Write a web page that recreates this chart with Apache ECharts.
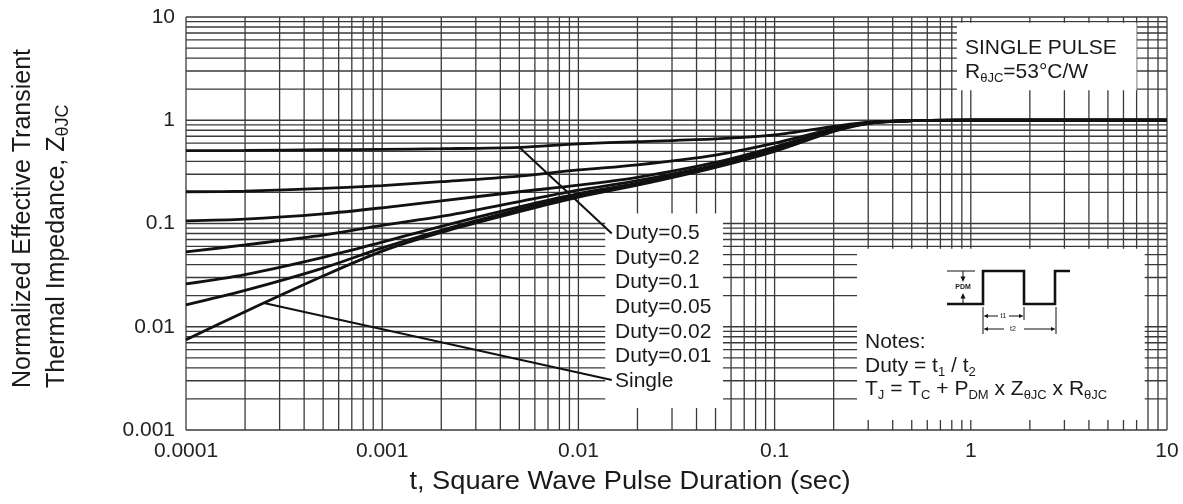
<!DOCTYPE html>
<html>
<head>
<meta charset="utf-8">
<script src="https://cdn.jsdelivr.net/npm/echarts@6.0.0/dist/echarts.min.js"></script>
<style>
  html, body { margin: 0; padding: 0; background: #fff; }
  #chart { width: 1183px; height: 504px; }
</style>
</head>
<body>
<div id="chart"></div>
<script>
const tSec = [1e-4, 2e-4, 5e-4, 1e-3, 2e-3, 5e-3, 1e-2, 2e-2, 5e-2, 0.1, 0.2, 0.3, 0.5, 1, 10];

// normalized Zthjc per duty cycle
const duty05  = [0.507, 0.51, 0.518, 0.523, 0.53, 0.547, 0.59, 0.62, 0.66, 0.72, 0.87, 0.96, 0.99, 1.0, 1.0];
const duty02  = [0.203, 0.206, 0.219, 0.233, 0.254, 0.288, 0.33, 0.37, 0.46, 0.60, 0.83, 0.95, 0.99, 1.0, 1.0];
const duty01  = [0.106, 0.110, 0.124, 0.142, 0.166, 0.203, 0.235, 0.28, 0.39, 0.55, 0.81, 0.945, 0.99, 1.0, 1.0];
const duty005 = [0.053, 0.062, 0.077, 0.096, 0.117, 0.163, 0.21, 0.26, 0.37, 0.53, 0.80, 0.94, 0.99, 1.0, 1.0];
const duty002 = [0.026, 0.032, 0.047, 0.066, 0.094, 0.145, 0.195, 0.246, 0.36, 0.52, 0.795, 0.94, 0.99, 1.0, 1.0];
const duty001 = [0.0163, 0.0225, 0.037, 0.058, 0.086, 0.137, 0.188, 0.24, 0.355, 0.51, 0.79, 0.935, 0.99, 1.0, 1.0];
const single  = [0.0075, 0.014, 0.031, 0.054, 0.082, 0.13, 0.18, 0.235, 0.35, 0.50, 0.78, 0.93, 0.99, 1.0, 1.0];

const curveLabels = ['Duty=0.5', 'Duty=0.2', 'Duty=0.1', 'Duty=0.05', 'Duty=0.02', 'Duty=0.01', 'Single'];
const xTickLabels = ['0.0001', '0.001', '0.01', '0.1', '1', '10'];
const yTickLabels = ['0.001', '0.01', '0.1', '1', '10'];

// leader lines from curve to label [t, Z]
const leader05 = [[0.005, 0.547], [0.0148, 0.080]];
const leaderSingle = [[0.000246, 0.0171], [0.0148, 0.00305]];

// white label boxes [tLeft, zBottom, tRight, zTop]
const boxes = [
  [0.0137, 0.00163, 0.0546, 0.125],
  [0.263, 0.00125, 7.7, 0.057],
  [0.85, 1.95, 7.0, 8.8]
];

const X_MIN = 1e-4, X_MAX = 10, Y_MIN = 1e-3, Y_MAX = 10;
const FONT = '"Liberation Sans", Arial, sans-serif';
const INK = '#1a1a1a';
const GRID = '#3a3a3a';

// 1..9 in every decade, plus the top end
function logGrid(min, max) {
  const out = [];
  for (let e = Math.round(Math.log10(min)); e < Math.round(Math.log10(max)); e++) {
    for (let k = 1; k < 10; k++) out.push(+(k * Math.pow(10, e)).toPrecision(3));
  }
  out.push(max);
  return out;
}

const chart = echarts.init(document.getElementById('chart'));

const curves = [duty05, duty02, duty01, duty005, duty002, duty001, single];

const richBase = {
  m: { fontSize: 21, fontFamily: FONT, color: INK, lineHeight: 26 },
  s: { fontSize: 13, fontFamily: FONT, color: INK, lineHeight: 15, verticalAlign: 'bottom' }
};

function txt(x, y, text, size, extra) {
  const el = {
    type: 'text', x: x, y: y, z: 10, silent: true,
    style: { text: text, fill: INK, fontSize: size, fontFamily: FONT, align: 'left', verticalAlign: 'middle' }
  };
  return Object.assign(el, extra || {});
}
function centerTxt(x, y, text, size, extra) {
  const el = txt(x, y, text, size, extra);
  el.style.align = 'center';
  return el;
}
function richTxt(x, y, text, extra) {
  const el = txt(x, y, text, 21, extra);
  el.style.rich = richBase;
  return el;
}
function seg(points, w) {
  return { type: 'polyline', z: 10, silent: true, shape: { points: points },
           style: { stroke: '#111', lineWidth: w, fill: null } };
}
function tri(points) {
  return { type: 'polygon', z: 10, silent: true, shape: { points: points }, style: { fill: '#111' } };
}

const yTitle2 = txt(57, 388, '{t|Thermal Impedance, Z}{u|θJC}', 25, { rotation: Math.PI / 2 });
yTitle2.style.rich = {
  t: { fontSize: 25, fontFamily: FONT, color: INK, lineHeight: 30 },
  u: { fontSize: 18, fontFamily: FONT, color: INK, lineHeight: 20, verticalAlign: 'bottom' }
};

const pdmLabel = centerTxt(963, 287.5, 'PDM', 7);
pdmLabel.style.fontWeight = 'bold';

const graphics = [
  // y axis title, two rotated lines
  txt(23, 388, 'Normalized Effective Transient', 25, { rotation: Math.PI / 2 }),
  yTitle2,
  // x axis title
  centerTxt(630, 482, 't, Square Wave Pulse Duration (sec)', 25, { scaleX: 1.09 }),

  // single pulse box
  txt(965, 48, 'SINGLE PULSE', 21),
  richTxt(965, 72, '{m|R}{s|θJC}{m|=53°C/W}'),

  // notes box
  txt(865, 342, 'Notes:', 21),
  richTxt(865, 366, '{m|Duty = t}{s|1}{m| / t}{s|2}'),
  richTxt(865, 389, '{m|T}{s|J}{m| = T}{s|C}{m| + P}{s|DM}{m| x Z}{s|θJC}{m| x R}{s|θJC}'),

  // pulse schematic
  seg([[947, 304], [983, 304], [983, 271], [1024, 271], [1024, 304], [1055, 304], [1055, 271], [1070, 271]], 2.6),
  seg([[947, 271], [975, 271]], 1),
  seg([[963, 271], [963, 278]], 1),
  tri([[963, 282], [960.5, 276.5], [965.5, 276.5]]),
  seg([[963, 297], [963, 304]], 1),
  tri([[963, 293], [960.5, 298.5], [965.5, 298.5]]),
  pdmLabel,
  seg([[983, 307], [983, 334]], 1),
  seg([[1024, 307], [1024, 320]], 1),
  seg([[1056, 307], [1056, 334]], 1),
  seg([[986, 316], [998, 316]], 1),
  tri([[983.5, 316], [988, 314], [988, 318]]),
  seg([[1009, 316], [1021, 316]], 1),
  tri([[1023.5, 316], [1019, 314], [1019, 318]]),
  centerTxt(1003.5, 316, 't1', 7),
  seg([[986, 329], [1004, 329]], 1),
  tri([[983.5, 329], [988, 327], [988, 331]]),
  seg([[1024, 329], [1053, 329]], 1),
  tri([[1055.5, 329], [1051, 327], [1051, 331]]),
  centerTxt(1013, 329, 't2', 7)
];

// duty labels stacked in the left box
curveLabels.forEach(function (name, i) {
  graphics.push(txt(615, 233.5 + i * 24.6, name, 21));
});

const series = [
  {
    type: 'custom', z: 1, silent: true, clip: false,
    data: logGrid(X_MIN, X_MAX).map(v => [v, 1]),
    renderItem: function (params, api) {
      const a = api.coord([api.value(0), Y_MIN]);
      const b = api.coord([api.value(0), Y_MAX]);
      return { type: 'line', shape: { x1: a[0], y1: a[1], x2: b[0], y2: b[1] },
               style: { stroke: GRID, lineWidth: 1.3 } };
    }
  },
  {
    type: 'custom', z: 1, silent: true, clip: false,
    data: logGrid(Y_MIN, Y_MAX).map(v => [1, v]),
    renderItem: function (params, api) {
      const a = api.coord([X_MIN, api.value(1)]);
      const b = api.coord([X_MAX, api.value(1)]);
      return { type: 'line', shape: { x1: a[0], y1: a[1], x2: b[0], y2: b[1] },
               style: { stroke: GRID, lineWidth: 1.3 } };
    }
  },
  {
    type: 'custom', z: 2, silent: true, clip: false,
    data: boxes,
    renderItem: function (params, api) {
      const a = api.coord([api.value(0), api.value(1)]);
      const b = api.coord([api.value(2), api.value(3)]);
      return { type: 'rect', shape: { x: a[0], y: b[1], width: b[0] - a[0], height: a[1] - b[1] },
               style: { fill: '#fff' } };
    }
  }
];

curves.forEach(function (vals, i) {
  series.push({
    type: 'line', name: curveLabels[i], z: 3, silent: true,
    data: tSec.map((t, j) => [t, vals[j]]),
    symbol: 'none', smooth: 0.3,
    lineStyle: { color: '#111', width: 2.8 }
  });
});

[leader05, leaderSingle].forEach(function (pts) {
  series.push({
    type: 'line', z: 4, silent: true, data: pts, symbol: 'none',
    lineStyle: { color: '#111', width: 2 }
  });
});

chart.setOption({
  animation: false,
  backgroundColor: '#fff',
  grid: { left: 186, right: 16, top: 17, bottom: 74, containLabel: false },
  xAxis: {
    type: 'log', logBase: 10, min: X_MIN, max: X_MAX,
    axisLine: { show: false }, axisTick: { show: false }, splitLine: { show: false },
    axisLabel: {
      margin: 11, fontSize: 21, fontFamily: FONT, color: '#222',
      formatter: v => xTickLabels[Math.round(Math.log10(v)) + 4]
    }
  },
  yAxis: {
    type: 'log', logBase: 10, min: Y_MIN, max: Y_MAX,
    axisLine: { show: false }, axisTick: { show: false }, splitLine: { show: false },
    axisLabel: {
      margin: 11, fontSize: 21, fontFamily: FONT, color: '#222',
      formatter: v => yTickLabels[Math.round(Math.log10(v)) + 3]
    }
  },
  series: series,
  graphic: { elements: graphics }
});
</script>
</body>
</html>
